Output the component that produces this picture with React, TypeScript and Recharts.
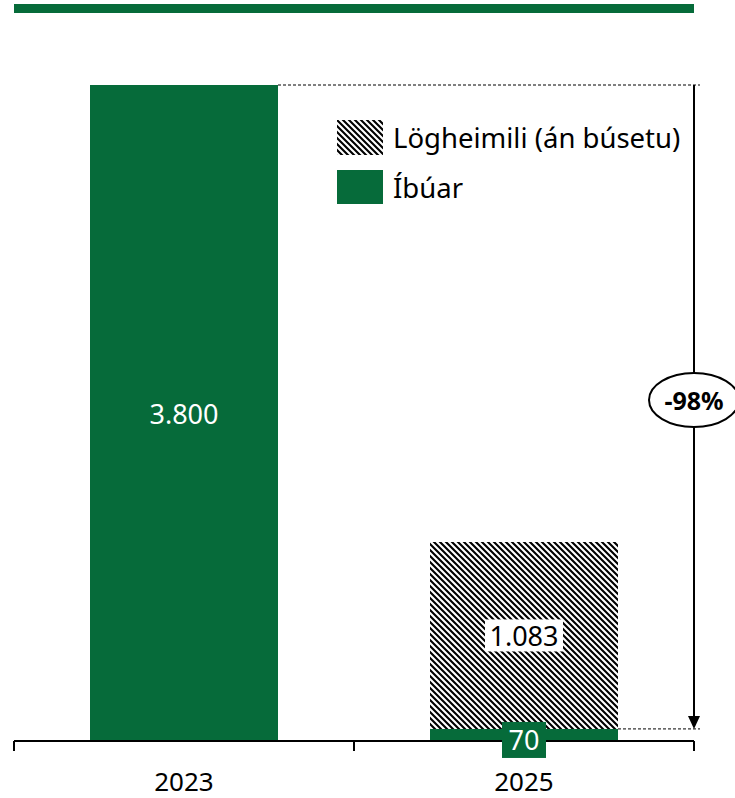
import { BarChart, Bar, XAxis, YAxis, LabelList, Customized } from "recharts";

const years = ["2023", "2025"];
const ibuar = [3800, 70];
const logheimili = [0, 1083];
const seriesNames = ["Lögheimili (án búsetu)", "Íbúar"];
const changeLabel = "-98%";

const GREEN = "#066B3A";
const FONT = "'Noto Sans', sans-serif";

const W = 735;
const H = 798;
const AXIS_H = 57;
const MARGIN = { top: 85, right: 41, bottom: 0, left: 14 };
const PLOT_W = W - MARGIN.left - MARGIN.right;
const PLOT_H = H - MARGIN.top - AXIS_H;
const Y_MAX = 3800;
const BAR_SIZE = 188;

const data = years.map((year, i) => ({
  year,
  ibuar: ibuar[i],
  logheimili: logheimili[i],
}));

const fmt = (v: number) => v.toLocaleString("de-DE");
const yPos = (v: number) => MARGIN.top + PLOT_H * (1 - v / Y_MAX);
const bandCenter = (i: number) => MARGIN.left + (i + 0.5) * (PLOT_W / years.length);

const IbuarLabel = (props: any) => {
  const { x, y, width, height, value, index } = props;
  if (!value) return null;
  const cx = x + width / 2;
  if (index === 0) {
    return (
      <text x={cx} y={y + height / 2} fill="#fff" fontSize={27} fontFamily={FONT}
        textAnchor="middle" dominantBaseline="central">{fmt(value)}</text>
    );
  }
  const cy = y + height / 2 + 5;
  return (
    <g>
      <rect x={cx - 22} y={cy - 18} width={44} height={36} fill={GREEN} />
      <text x={cx} y={cy} fill="#fff" fontSize={27} fontFamily={FONT}
        textAnchor="middle" dominantBaseline="central">{fmt(value)}</text>
    </g>
  );
};

const LogLabel = (props: any) => {
  const { x, y, width, height, value } = props;
  if (!value) return null;
  const cx = x + width / 2;
  const cy = y + height / 2;
  return (
    <g>
      <rect x={cx - 39} y={cy - 16} width={78} height={32} fill="#fff" />
      <text x={cx} y={cy} fill="#000" fontSize={27} fontFamily={FONT}
        textAnchor="middle" dominantBaseline="central">{fmt(value)}</text>
    </g>
  );
};

const Annotations = () => {
  const axisY = MARGIN.top + PLOT_H;
  const right = MARGIN.left + PLOT_W;
  const topY = yPos(ibuar[0] + logheimili[0]);
  const lowY = yPos(ibuar[1]);
  const arrowX = right;
  const midY = (topY + lowY) / 2 - 7;
  return (
    <g>
      {/* boundary ticks */}
      {[0, 1, 2].map((k) => {
        const tx = MARGIN.left + (k * PLOT_W) / years.length;
        return <line key={k} x1={tx} x2={tx} y1={axisY} y2={axisY + 10} stroke="#000" strokeWidth={2} />;
      })}
      <line x1={bandCenter(0) + BAR_SIZE / 2} x2={right + 6} y1={topY} y2={topY}
        stroke="#000" strokeWidth={1} strokeDasharray="3 2" />
      <line x1={bandCenter(1) + BAR_SIZE / 2} x2={right + 6} y1={lowY} y2={lowY}
        stroke="#000" strokeWidth={1} strokeDasharray="3 2" />
      <line x1={arrowX} x2={arrowX} y1={topY} y2={lowY - 12} stroke="#000" strokeWidth={2} />
      <polygon points={`${arrowX - 6},${lowY - 13} ${arrowX + 6},${lowY - 13} ${arrowX},${lowY}`} fill="#000" />
      <ellipse cx={arrowX} cy={midY} rx={45} ry={27} fill="#fff" stroke="#000" strokeWidth={2} />
      <text x={arrowX} y={midY} fontSize={25} fontWeight="bold" fontFamily={FONT}
        textAnchor="middle" dominantBaseline="central">{changeLabel}</text>
    </g>
  );
};

const Hatch = ({ w, h }: { w: number; h: number }) => (
  <svg width={w} height={h} style={{ display: "block" }}>
    <rect width={w} height={h} fill="url(#hatch)" />
  </svg>
);

export default function App() {
  return (
    <div style={{ position: "absolute", left: 0, top: 0, width: W, height: H, background: "#fff" }}>
      <svg width={0} height={0} style={{ position: "absolute" }}>
        <defs>
          <pattern id="hatch" width={6} height={6} patternUnits="userSpaceOnUse">
            <rect width={6} height={6} fill="#fff" />
            <path d="M-1,-1 L7,7 M-1,5 L1,7 M5,-1 L7,1" stroke="#000" strokeWidth={2.1} />
          </pattern>
        </defs>
      </svg>
      <div style={{ position: "absolute", left: 14, top: 4, width: 680, height: 9, background: GREEN }} />
      <BarChart width={W} height={H} data={data} margin={MARGIN} barSize={BAR_SIZE}>
        <XAxis dataKey="year" height={AXIS_H} axisLine={{ stroke: "#000", strokeWidth: 2 }} tickLine={false}
          tickMargin={26} tick={{ fill: "#000", fontSize: 26, fontFamily: FONT }} />
        <YAxis hide domain={[0, Y_MAX]} />
        <Bar dataKey="ibuar" stackId="a" fill={GREEN} isAnimationActive={false}>
          <LabelList dataKey="ibuar" content={<IbuarLabel />} />
        </Bar>
        <Bar dataKey="logheimili" stackId="a" fill="url(#hatch)" isAnimationActive={false}>
          <LabelList dataKey="logheimili" content={<LogLabel />} />
        </Bar>
        <Customized component={<Annotations />} />
      </BarChart>
      <div style={{ position: "absolute", left: 337, top: 120, fontFamily: FONT, fontSize: 27.5, color: "#000" }}>
        <div style={{ display: "flex", alignItems: "center", height: 35, marginBottom: 15 }}>
          <Hatch w={46} h={35} />
          <span style={{ marginLeft: 10 }}>{seriesNames[0]}</span>
        </div>
        <div style={{ display: "flex", alignItems: "center", height: 34 }}>
          <div style={{ width: 46, height: 34, background: GREEN }} />
          <span style={{ marginLeft: 10 }}>{seriesNames[1]}</span>
        </div>
      </div>
    </div>
  );
}
